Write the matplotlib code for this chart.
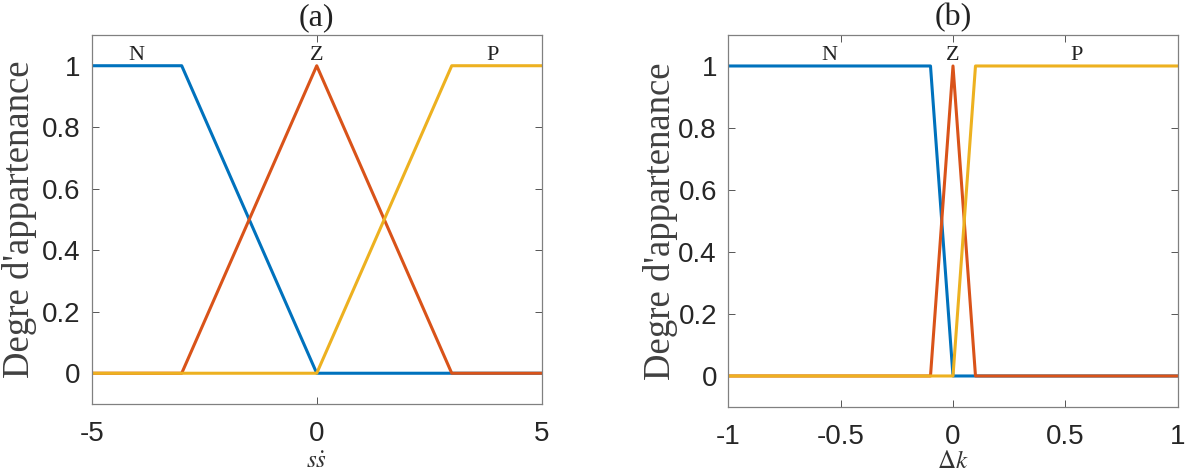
import matplotlib.pyplot as plt

# membership functions, breakpoints
x_a = [-5, -3, 0, 3, 5]
n_a = [1, 1, 0, 0, 0]
z_a = [0, 0, 1, 0, 0]
p_a = [0, 0, 0, 1, 1]

x_b = [-1, -0.1, 0, 0.1, 1]
n_b = [1, 1, 0, 0, 0]
z_b = [0, 0, 1, 0, 0]
p_b = [0, 0, 0, 1, 1]

labels = ["N", "Z", "P"]
label_x_a = [-4, 0, 3.9]
label_x_b = [-0.55, 0, 0.55]

xticks_a = [-5, 0, 5]
xticks_b = [-1, -0.5, 0, 0.5, 1]
yticks = [0, 0.2, 0.4, 0.6, 0.8, 1]

colors = ["#0072BD", "#D95319", "#EDB120"]

plt.rcParams['mathtext.fontset'] = 'stix'

fig = plt.figure(figsize=(11.97, 4.74), dpi=100)
ax1 = fig.add_axes([0.0766, 0.1477, 0.3760, 0.7785])
ax2 = fig.add_axes([0.6082, 0.1414, 0.3759, 0.7848])


def style(ax, x, series, lab_x, xticks, xlim, title, xlabel, ylab_off):
    for y, c in zip(series, colors):
        ax.plot(x, y, color=c, lw=2.2)
    ax.set_xlim(xlim)
    ax.set_ylim(-0.1, 1.1)
    ax.set_xticks(xticks)
    ax.set_xticklabels([f"{t:g}" for t in xticks])
    ax.set_yticks(yticks)
    ax.set_yticklabels([f"{t:g}" for t in yticks])
    ax.tick_params(direction='in', top=True, right=True, length=5, width=0.7,
                   colors='#555555', labelsize=20, labelcolor='#262626')
    ax.tick_params(axis='x', pad=12)
    ax.tick_params(axis='y', pad=8)
    for lab in ax.get_xticklabels() + ax.get_yticklabels():
        lab.set_family('Liberation Sans')
    for s in ax.spines.values():
        s.set_color('#808080')
        s.set_linewidth(0.9)
    for t, xx in zip(labels, lab_x):
        ax.text(xx, 1.02, t, ha='center', va='baseline', family='Liberation Serif',
                fontsize=16, color='#222222')
    ax.set_title(title, family='Liberation Serif', fontsize=23, pad=7, color='#222222')
    bb = ax.get_position()
    fig.text((bb.x0 + bb.x1) / 2, 1 / 474, xlabel, ha='center', va='bottom',
             fontsize=18, color='#333333')
    ax.text(ylab_off, 0.5, "Degre d'appartenance", transform=ax.transAxes,
            rotation=90, ha='center', va='center', family='Liberation Serif',
            fontsize=26.5, color='#404040')


style(ax1, x_a, [n_a, z_a, p_a], label_x_a, xticks_a, (-5, 5), "(a)",
      r"$s\dot{s}$", -72 / 450)
style(ax2, x_b, [n_b, z_b, p_b], label_x_b, xticks_b, (-1, 1), "(b)",
      r"$\Delta k$", -68 / 450)

fig.savefig("out.png", dpi=100)
